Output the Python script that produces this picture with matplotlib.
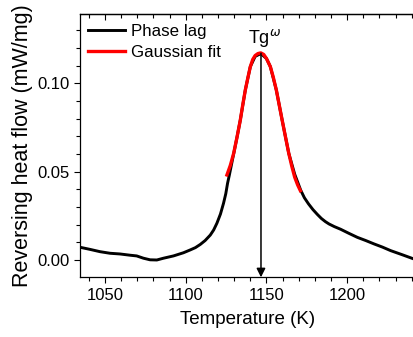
import numpy as np
import matplotlib
matplotlib.use('Agg')
import matplotlib.pyplot as plt
from matplotlib.ticker import MultipleLocator

plt.rcParams['font.family'] = ['Liberation Sans', 'DejaVu Sans']

# phase lag curve
temp_lag = [1034.5, 1040.7, 1046.9, 1053.1, 1059.3, 1065.5, 1069.6, 1073.8, 1077.9,
            1082.1, 1086.2, 1092.4, 1098.6, 1102.8, 1106.0, 1109.0, 1112.0, 1115.2,
            1117.3, 1119.3, 1121.5, 1123.4, 1124.8, 1125.9, 1127.0, 1128.0, 1130.0,
            1131.8, 1133.8, 1136.9, 1140.0, 1143.0, 1146.5, 1150.0, 1152.4, 1156.1,
            1159.7, 1163.8, 1167.5, 1171.2, 1173.5, 1176.0, 1178.8, 1181.5, 1184.0,
            1186.5, 1188.7, 1192.0, 1195.9, 1201.0, 1206.3, 1211.5, 1216.6, 1221.8,
            1226.9, 1234.0, 1241.2]
hf_lag = [0.0072, 0.0060, 0.0047, 0.0038, 0.0034, 0.0027, 0.0023, 0.0010, 0.0001,
          0.0000, 0.0010, 0.0023, 0.0041, 0.0057, 0.0070, 0.0088, 0.0110, 0.0141,
          0.0170, 0.0208, 0.0260, 0.0321, 0.0375, 0.0434, 0.0480, 0.0525, 0.0615,
          0.0697, 0.0792, 0.0962, 0.1094, 0.1152, 0.1168, 0.1140, 0.1094, 0.0962,
          0.0792, 0.0604, 0.0485, 0.0395, 0.0352, 0.0318, 0.0285, 0.0258, 0.0235,
          0.0217, 0.0204, 0.0189, 0.0174, 0.0151, 0.0128, 0.0110, 0.0091, 0.0073,
          0.0053, 0.0030, 0.0006]

# gaussian fit curve
temp_fit = [1125.5, 1127.6, 1129.7, 1131.8, 1133.8, 1135.3, 1136.9, 1138.5, 1140.0,
            1141.5, 1143.0, 1144.7, 1146.5, 1148.3, 1150.0, 1152.4, 1154.2, 1156.1,
            1157.9, 1159.7, 1161.8, 1163.8, 1165.7, 1167.5, 1169.3, 1171.0]
hf_fit = [0.0481, 0.0535, 0.0604, 0.0697, 0.0792, 0.0877, 0.0962, 0.1032, 0.1094,
          0.1135, 0.1157, 0.1168, 0.1172, 0.1163, 0.1140, 0.1094, 0.1035, 0.0962,
          0.0877, 0.0792, 0.0695, 0.0604, 0.0530, 0.0468, 0.0425, 0.0392]

tg_temp = 1146.6
tg_peak = 0.1170

xlim = (1034.5, 1242.0)
ylim = (-0.0098, 0.1392)

fig = plt.figure(figsize=(4.13, 3.37), dpi=100)
ax = fig.add_axes([80 / 413, (337 - 277.3) / 337, (415 - 80) / 413, (277.3 - 14) / 337])

ax.plot(temp_lag, hf_lag, color='black', lw=2.1, label='Phase lag', zorder=2,
        solid_joinstyle='round')
ax.plot(temp_fit, hf_fit, color='#ff0000', lw=2.4, label='Gaussian fit', zorder=3,
        solid_joinstyle='round')

ax.annotate('', xy=(tg_temp, ylim[0]), xytext=(tg_temp, tg_peak),
            arrowprops=dict(arrowstyle='-|>', color='black', lw=1.1,
                            mutation_scale=13, shrinkA=0, shrinkB=0), zorder=4)
ax.text(1138.3, 0.1230, r'Tg$^{\omega}$', fontsize=13, va='baseline', ha='left')

ax.set_xlim(xlim)
ax.set_ylim(ylim)
ax.xaxis.set_major_locator(MultipleLocator(50))
ax.xaxis.set_minor_locator(MultipleLocator(10))
ax.yaxis.set_major_locator(MultipleLocator(0.05))
ax.yaxis.set_minor_locator(MultipleLocator(0.01))
ax.yaxis.set_major_formatter(plt.FormatStrFormatter('%.2f'))

ax.tick_params(which='both', direction='out', top=False, right=False,
               labelsize=12, width=0.8)
ax.tick_params(which='major', length=4)
ax.tick_params(which='minor', length=3)
# top axis with inward ticks, no labels
sec = ax.secondary_xaxis('top')
sec.xaxis.set_major_locator(MultipleLocator(50))
sec.xaxis.set_minor_locator(MultipleLocator(10))
sec.tick_params(which='both', direction='in', labeltop=False, width=0.8)
sec.tick_params(which='major', length=4)
sec.tick_params(which='minor', length=3)
for s in ax.spines.values():
    s.set_linewidth(0.9)
sec.spines['top'].set_linewidth(0.9)

ax.set_xlabel('Temperature (K)', fontsize=13.5, labelpad=6)
ax.set_ylabel('Reversing heat flow (mW/mg)', fontsize=15.5, labelpad=3)

ax.legend(loc='upper left', frameon=False, fontsize=12.2, handlelength=2.2,
          handletextpad=0.35, borderaxespad=0.3, labelspacing=0.33,
          bbox_to_anchor=(-0.012, 1.006))

fig.savefig('out.png', dpi=100)
